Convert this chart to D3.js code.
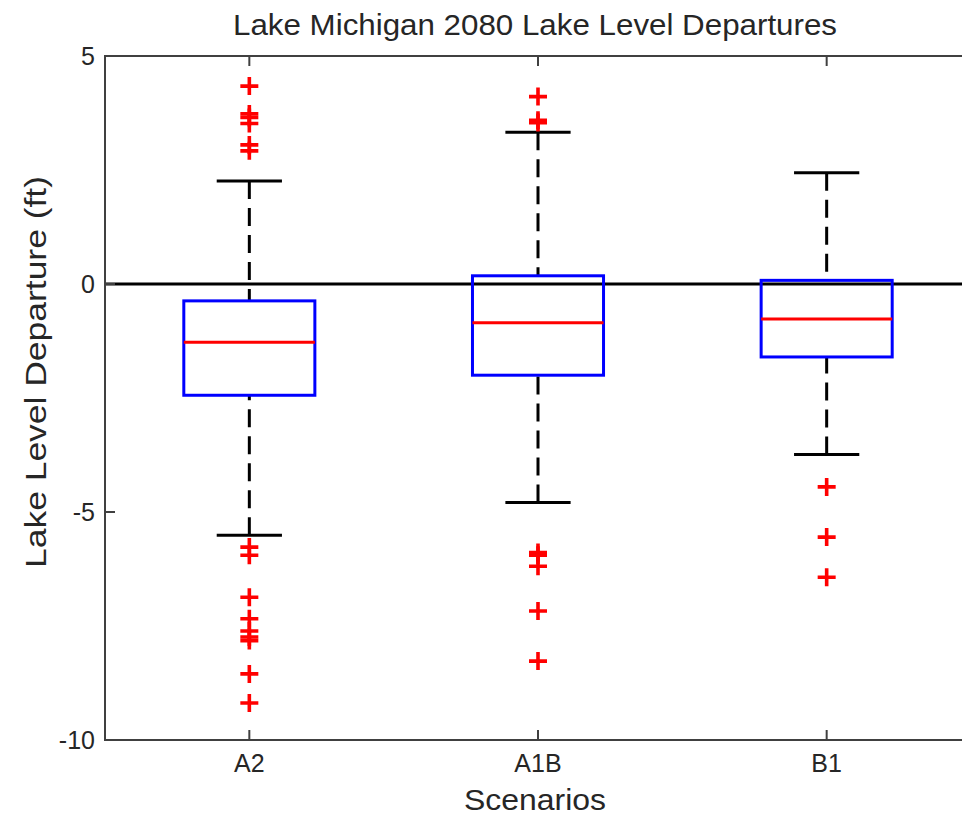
<!DOCTYPE html>
<html><head><meta charset="utf-8">
<script src="https://cdn.jsdelivr.net/npm/d3@7"></script>
<style>body{margin:0;background:#fff}svg{display:block}text{font-family:"Liberation Sans",Arial,sans-serif;fill:#262626}</style>
</head><body>
<svg id="c" width="962" height="817"></svg>
<script>
const categories = ["A2", "A1B", "B1"];
const q1 = [-2.44, -2.00, -1.60];
const medians = [-1.28, -0.85, -0.77];
const q3 = [-0.37, 0.18, 0.08];
const whiskerLow = [-5.51, -4.79, -3.74];
const whiskerHigh = [2.26, 3.33, 2.44];
const outliersA2 = [4.34, 3.73, 3.65, 3.52, 3.05, 2.92, -5.77, -5.95, -6.87, -7.34, -7.61, -7.74, -7.82, -8.55, -9.19];
const outliersA1B = [4.11, 3.59, 3.54, -5.89, -5.95, -6.19, -7.17, -8.27];
const outliersB1 = [-4.45, -5.55, -6.43];
const outliers = [outliersA2, outliersA1B, outliersB1];
const yTicks = [5, 0, -5, -10];
const titleText = "Lake Michigan 2080 Lake Level Departures";
const xLabel = "Scenarios";
const yLabel = "Lake Level Departure (ft)";

const svg = d3.select("#c");
const L = 105, R = 971, T = 56, B = 740;
const x = d3.scaleLinear().domain([0.5, 3.5]).range([L, R]);
const y = d3.scaleLinear().domain([-10, 5]).range([B, T]);
const boxHalf = 0.227, capHalf = 0.113;

// zero line
svg.append("line").attr("x1", L).attr("x2", R).attr("y1", y(0)).attr("y2", y(0))
  .attr("stroke", "#000").attr("stroke-width", 3);

const g = svg.append("g");
categories.forEach((c, i) => {
  const cx = x(i + 1);
  [[whiskerHigh[i], q3[i]], [whiskerLow[i], q1[i]]].forEach(([w, e]) => {
    g.append("line").attr("x1", cx).attr("x2", cx).attr("y1", y(w)).attr("y2", y(e))
      .attr("stroke", "#000").attr("stroke-width", 3).attr("stroke-dasharray", "18,9");
    g.append("line").attr("x1", x(i + 1 - capHalf)).attr("x2", x(i + 1 + capHalf))
      .attr("y1", y(w)).attr("y2", y(w)).attr("stroke", "#000").attr("stroke-width", 3);
  });
  g.append("rect").attr("x", x(i + 1 - boxHalf)).attr("width", x(i + 1 + boxHalf) - x(i + 1 - boxHalf))
    .attr("y", y(q3[i])).attr("height", y(q1[i]) - y(q3[i]))
    .attr("fill", "none").attr("stroke", "#0000ff").attr("stroke-width", 3);
  g.append("line").attr("x1", x(i + 1 - boxHalf)).attr("x2", x(i + 1 + boxHalf))
    .attr("y1", y(medians[i])).attr("y2", y(medians[i])).attr("stroke", "#ff0000").attr("stroke-width", 3);
  outliers[i].forEach(v => {
    const py = y(v);
    g.append("path").attr("d", `M${cx - 9},${py}H${cx + 9}M${cx},${py - 9}V${py + 9}`)
      .attr("stroke", "#ff0000").attr("stroke-width", 3.6).attr("fill", "none");
  });
});

const ax = svg.append("g").attr("stroke", "#404040").attr("stroke-width", 2).attr("fill", "none");
ax.append("path").attr("d", `M${R + 20},${T}H${L}V${B}H${R + 20}`);
yTicks.forEach(t => {
  ax.append("line").attr("x1", L).attr("x2", L + 10).attr("y1", y(t)).attr("y2", y(t));
});
categories.forEach((c, i) => {
  ax.append("line").attr("x1", x(i + 1)).attr("x2", x(i + 1)).attr("y1", B).attr("y2", B - 10);
  ax.append("line").attr("x1", x(i + 1)).attr("x2", x(i + 1)).attr("y1", T).attr("y2", T + 10);
});

svg.append("g").selectAll("text").data(yTicks).join("text")
  .attr("x", L - 10).attr("y", d => y(d)).attr("dy", "0.35em").attr("text-anchor", "end")
  .attr("font-size", 25).text(d => d);
svg.append("g").selectAll("text").data(categories).join("text")
  .attr("x", (d, i) => x(i + 1)).attr("y", 772).attr("text-anchor", "middle")
  .attr("font-size", 25).text(d => d);

svg.append("text").attr("x", 535).attr("y", 35).attr("text-anchor", "middle")
  .attr("font-size", 30).attr("textLength", 604).attr("lengthAdjust", "spacingAndGlyphs").text(titleText);
svg.append("text").attr("x", 535).attr("y", 810).attr("text-anchor", "middle")
  .attr("font-size", 30).attr("textLength", 142).attr("lengthAdjust", "spacingAndGlyphs").text(xLabel);
svg.append("text").attr("transform", `translate(46,372) rotate(-90)`)
  .attr("text-anchor", "middle").attr("font-size", 30)
  .attr("textLength", 392).attr("lengthAdjust", "spacingAndGlyphs").text(yLabel);
</script>
</body></html>
